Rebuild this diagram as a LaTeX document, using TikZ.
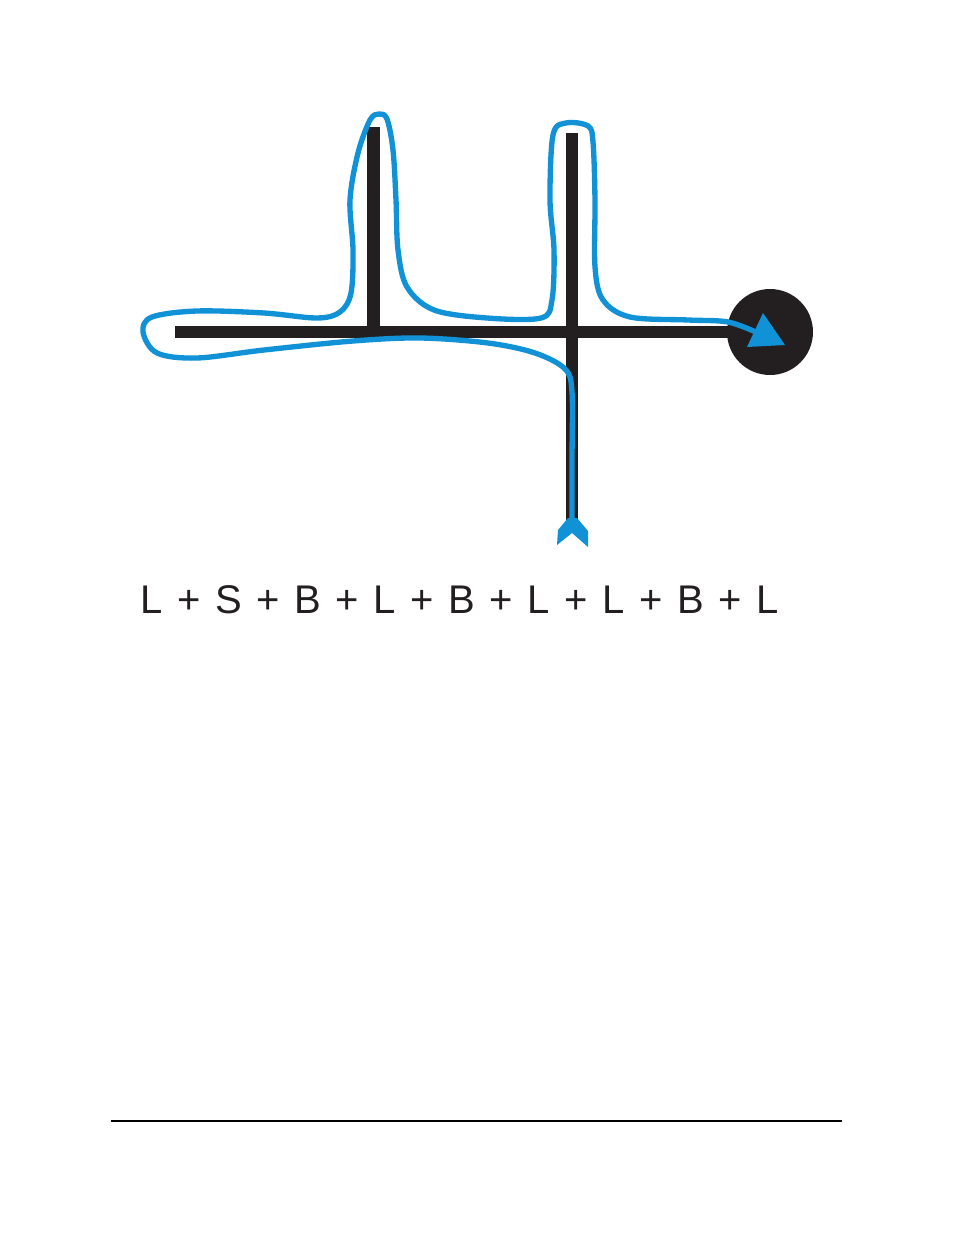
\documentclass[tikz,border=0pt]{standalone}
\usepackage{fontspec}
\setmainfont{Liberation Sans}
\definecolor{routeblue}{RGB}{18,146,214}
\definecolor{roadblack}{RGB}{35,31,32}
\begin{document}
\begin{tikzpicture}[x=0.75pt,y=0.75pt,yscale=-1,
  road/.style={color=roadblack, line width=9.5pt},
  route/.style={color=routeblue, line width=4pt, line join=round, line cap=round}]
\useasboundingbox (0,0) rectangle (954,1235);

%Shape: Circle [goal]
\node (goal) [circle, fill=roadblack, inner sep=0pt, minimum size=64.5pt] at (770,332) {};
%Straight Lines [main road]
\draw [road] (175,332) -- (goal.center);
%Straight Lines [first side road]
\draw [road] (373.5,127) -- (373.5,332);
%Straight Lines [second side road]
\draw [road] (572,133) -- (572,528);

%Shape: Curve [route]
\draw [route] plot [smooth, tension=0.55] coordinates {
  (572,526) (572,460) (572,392) (565,369) (535,353) (488,343) (420,338) (353,341)
  (264,350) (197,358) (157,353) (143,332) (152,317) (197,311) (264,313) (317,318)
  (340,312) (351,293) (353,250) (350,200) (358,153) (370,120) (379,114) (387,119)
  (393,150) (396,200) (398,250) (407,287) (434,310) (487,318) (541,318) (552,300)
  (554,250) (550,200) (553,135) (566,123) (588,126) (593,142) (595,200) (595,267)
  (603,300) (630,317) (688,320) (728,322) (758,333)};
%Shape: Polygon [route head]
\fill [routeblue] (763,313) -- (747,347) -- (785,345) -- cycle;
%Shape: Polygon [route tail]
\fill [routeblue] (568,518) -- (558,530) -- (557,545) -- (572,533) -- (588,547) -- (588,531) -- (577,518) -- cycle;

% Text Node
\node (formula) [anchor=base west, inner sep=0pt, font=\fontsize{30}{36}\selectfont, color=roadblack] at (140,613)
  {\spaceskip=0.365em L + S + B + L + B + L + L + B + L};

%Straight Lines [page rule]
\draw [line width=1.1pt] (111,1121) -- (842,1121);

\end{tikzpicture}
\end{document}
